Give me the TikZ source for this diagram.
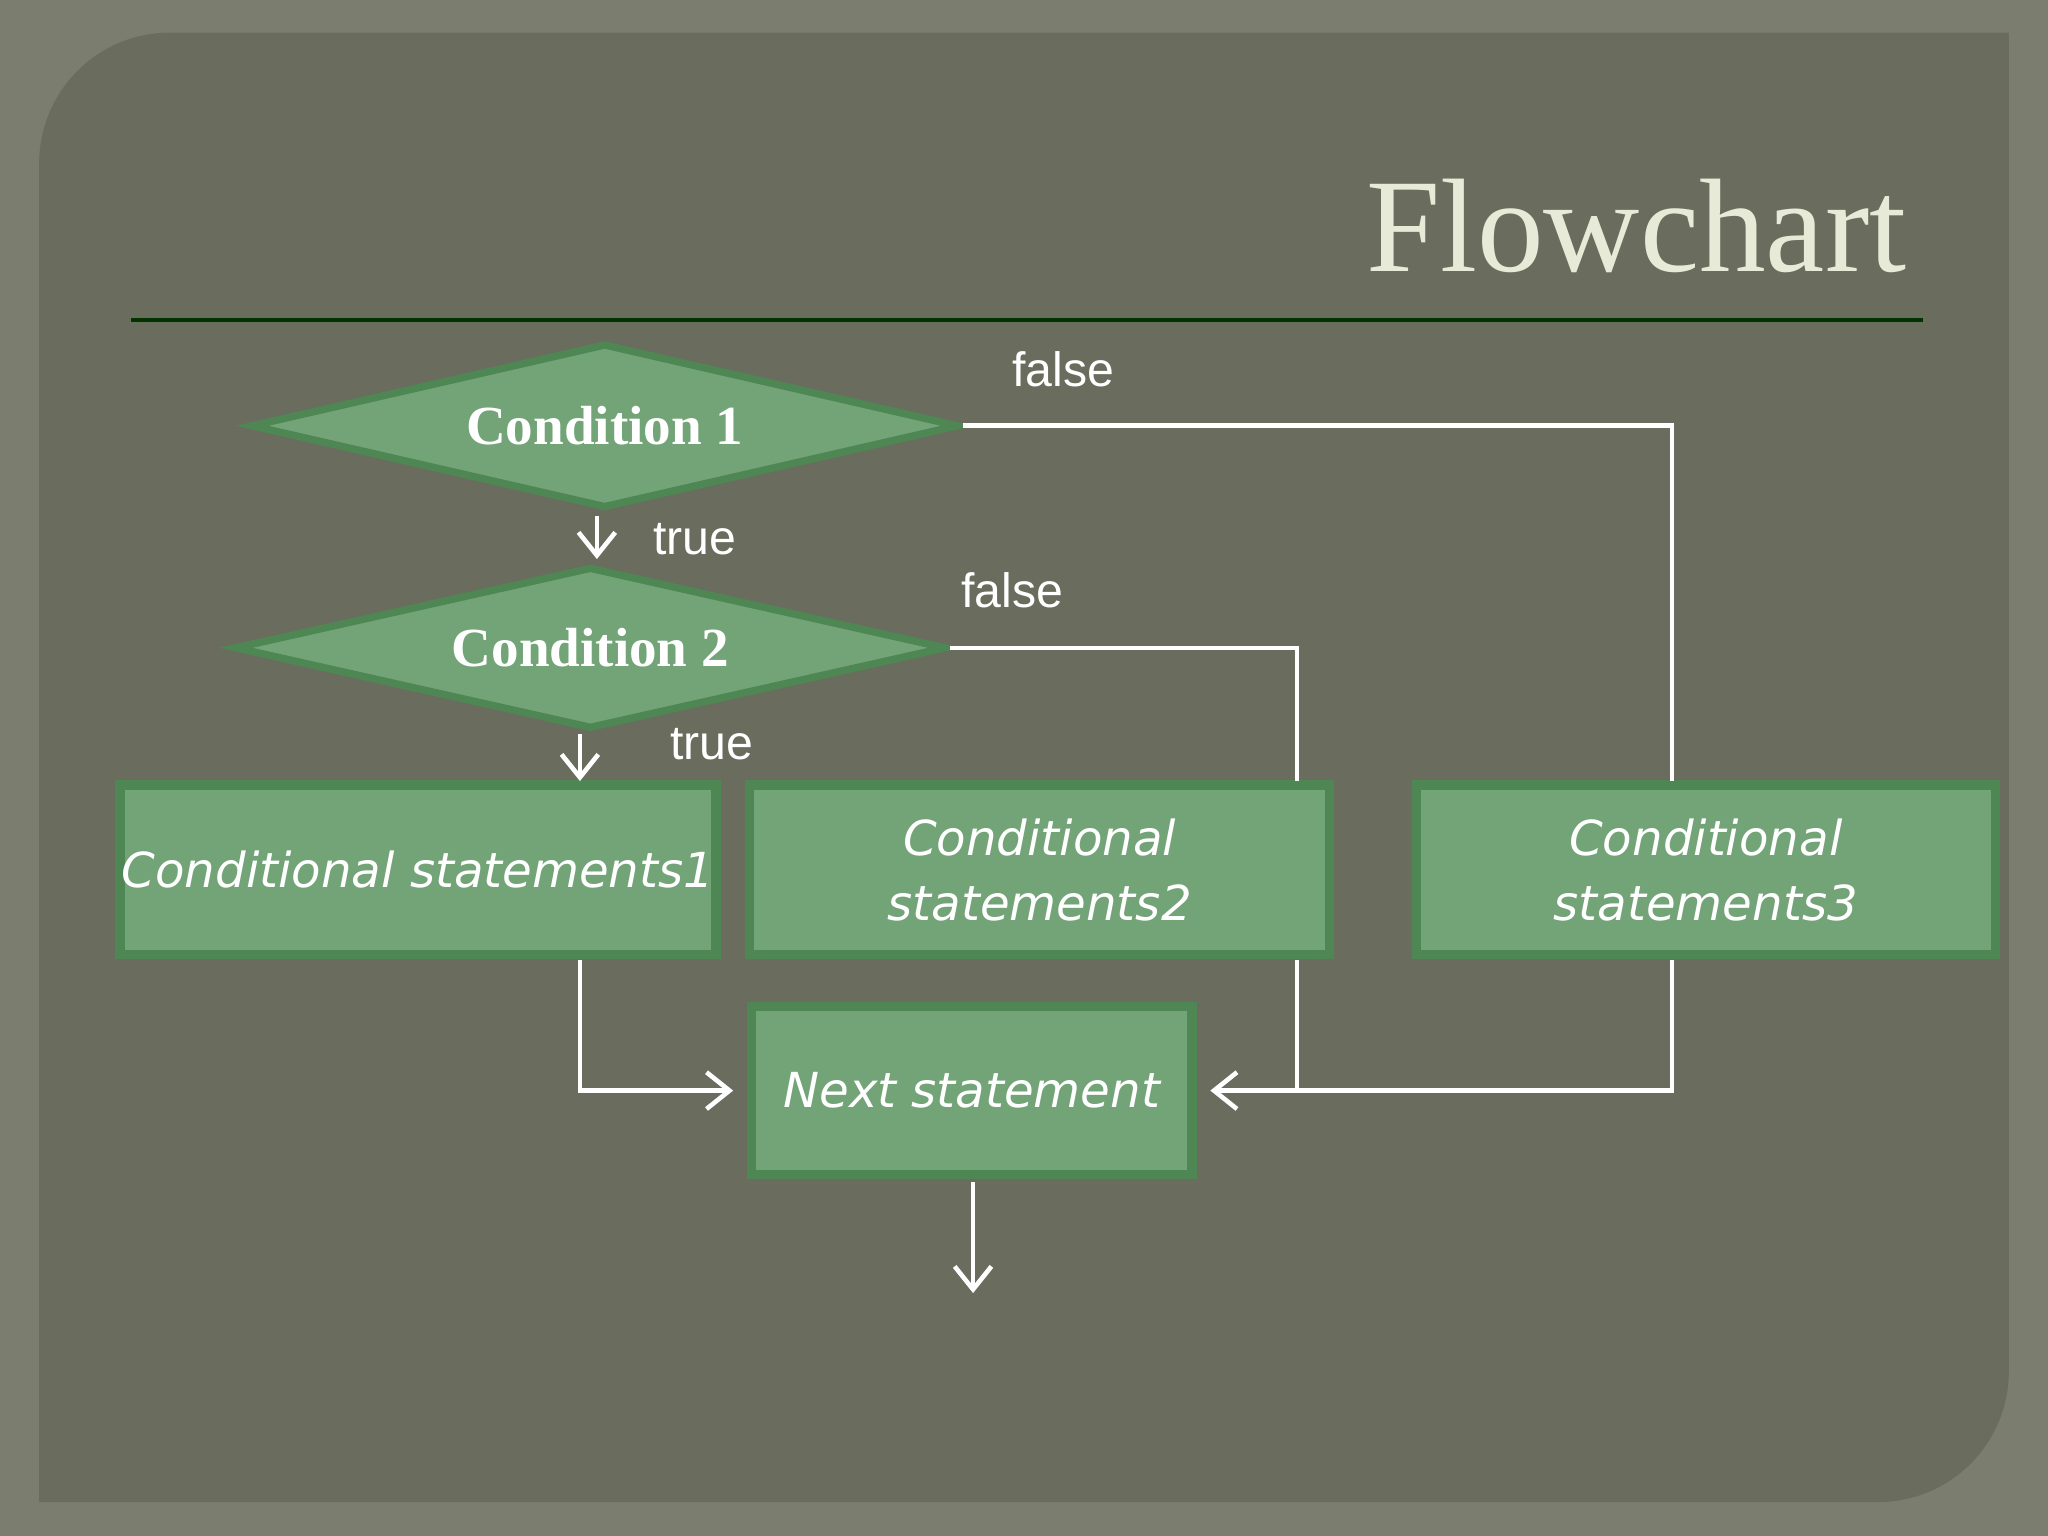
\documentclass[tikz,border=0pt]{standalone}
\usepackage{fontspec}
\setmainfont{Liberation Serif}
\newfontfamily\labelfont{Liberation Sans}
\newfontfamily\boxfont{DejaVu Sans}
\usetikzlibrary{shapes.geometric,arrows.meta}
\definecolor{frame}{HTML}{7B7E6F}
\definecolor{panel}{HTML}{6A6C5E}
\definecolor{shapefill}{HTML}{72A477}
\definecolor{shapeedge}{HTML}{4E8654}
\definecolor{titlecol}{HTML}{E6EAD6}
\begin{document}
\begin{tikzpicture}[x=0.01cm,y=-0.01cm,
  cond/.style={diamond,draw=shapeedge,line width=1.6pt,fill=shapefill,inner sep=0pt,
    text=white,font=\bfseries\fontsize{12}{14}\selectfont},
  stmt/.style={rectangle,draw=shapeedge,line width=2pt,fill=shapefill,inner sep=0pt,
    text=white,align=center,font=\boxfont\itshape\fontsize{10.5}{14}\selectfont},
  flow/.style={draw=white,line width=1pt},
  arr/.style={flow,-{Straight Barb[length=5pt,width=8pt]}},
  lbl/.style={text=white,font=\labelfont\fontsize{10.5}{12}\selectfont}]
\fill[frame] (0,0) rectangle (1568,1176);
\fill[panel] (130,25) -- (1538,25) -- (1538,1050) arc[start angle=0,end angle=90,radius=100] -- (30,1150) -- (30,125) arc[start angle=180,end angle=270,radius=100] -- cycle;
\node[anchor=base east,text=titlecol,font=\fontsize{29}{32}\selectfont] (title) at (1472,208) {Flowchart};
\draw[draw=black!50!green!40!black,line width=0.8pt] (100,245) -- (1472,245);

\node[cond,minimum width=5.42cm,minimum height=1.26cm,aspect=4.3] (c1) at (463,326) {Condition 1};
\node[cond,minimum width=5.45cm,minimum height=1.24cm,aspect=4.4] (c2) at (452,496) {Condition 2};
\node[stmt,minimum width=4.56cm,minimum height=1.3cm] (s1) at (320,666) {Conditional statements1};
\node[stmt,minimum width=4.44cm,minimum height=1.3cm] (s2) at (796,666) {Conditional\\statements2};
\node[stmt,minimum width=4.43cm,minimum height=1.3cm] (s3) at (1306,666) {Conditional\\statements3};
\node[stmt,minimum width=3.37cm,minimum height=1.29cm] (nx) at (744,835) {Next statement};

\coordinate (a1) at (457,395); \coordinate (a2) at (457,428);
\draw[arr] (a1) -- (a2);
\coordinate (b1) at (444,562); \coordinate (b2) at (444,598);
\draw[arr] (b1) -- (b2);
\coordinate (f1) at (1280,326); \coordinate (f1e) at (1280,598);
\draw[flow] (c1.east) -- (f1) -- (f1e);
\coordinate (f2) at (993,496); \coordinate (f2e) at (993,598);
\draw[flow] (c2.east) -- (f2) -- (f2e);
\coordinate (g1) at (444,735); \coordinate (g2) at (444,835);
\draw[arr] (g1) -- (g2) -- ([xshift=-3]nx.west);
\coordinate (h1) at (1280,735); \coordinate (h2) at (1280,835);
\draw[arr] (h1) -- (h2) -- ([xshift=3]nx.east);
\coordinate (k1) at (993,735); \coordinate (k2) at (993,835);
\draw[flow] (k1) -- (k2);
\coordinate (n1) at (745,905); \coordinate (n2) at (745,990);
\draw[arr] (n1) -- (n2);

\node[lbl] (l1) at (814,283) {false};
\node[lbl] (l2) at (532,413) {true};
\node[lbl] (l3) at (775,452) {false};
\node[lbl] (l4) at (545,570) {true};
\end{tikzpicture}
\end{document}
